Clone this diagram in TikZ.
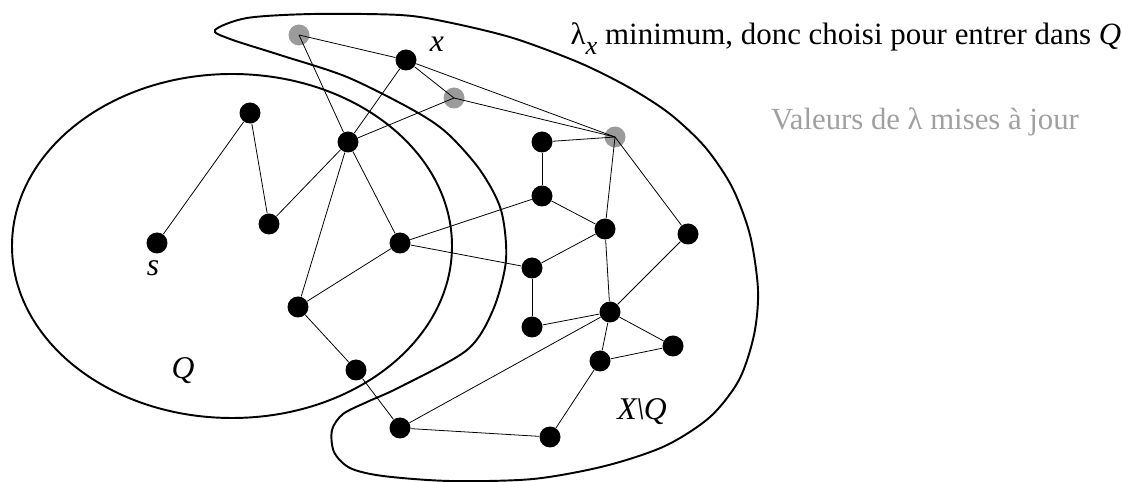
\documentclass[tikz,border=0pt]{standalone}
\usepackage{fontspec}
\setmainfont{Liberation Serif}
\usetikzlibrary{calc}
\definecolor{majgray}{RGB}{155,155,155}
\definecolor{txtgray}{RGB}{160,160,160}
\tikzset{
  sommet/.style={circle,fill=black,inner sep=0pt,minimum size=0.42cm},
  sommet maj/.style={circle,fill=majgray,inner sep=0pt,minimum size=0.42cm},
  arete/.style={line width=0.45pt},
  bord/.style={line width=1.1pt},
  etiq/.style={font=\fontsize{18}{21}\selectfont\itshape},
}

\begin{document}
\begin{tikzpicture}[x=0.02cm,y=-0.02cm]
  \useasboundingbox (0,0) rectangle (1123,482);
  % ensemble Q et son complementaire
  \draw[bord] (232,246) ellipse (220 and 172);
  \draw[bord] plot[smooth cycle,tension=0.5] coordinates {(215,30) (247,18) (313,14) (400,15)
    (447,22) (513,38) (580,63) (630,88) (670,114) (705,147) (732,187) (750,235) (758,290)
    (754,335) (739,380) (710,417) (665,446) (605,466) (533,479) (450,481) (383,476) (350,468)
    (334,452) (332,430) (343,414) (367,402) (400,387) (467,350) (493,310) (506,260) (501,210)
    (480,170) (447,133) (413,110) (347,77) (280,55) (230,39)};
  % sommets
  \node[sommet] (s) at (157,243) {};
  \node[sommet] (q1) at (250,113) {};
  \node[sommet] (q2) at (269,224) {};
  \node[sommet] (q3) at (348,142) {};
  \node[sommet] (q4) at (400,243) {};
  \node[sommet] (q5) at (298,307) {};
  \node[sommet] (q6) at (356,370) {};
  \node[sommet] (x) at (406,60) {};
  \node[sommet maj] (u1) at (299,35) {};
  \node[sommet maj] (u2) at (454,98) {};
  \node[sommet maj] (u3) at (615,137) {};
  \node[sommet] (a) at (542,142) {};
  \node[sommet] (b) at (542,196) {};
  \node[sommet] (c) at (605,229) {};
  \node[sommet] (d) at (688,234) {};
  \node[sommet] (e) at (532,268) {};
  \node[sommet] (f) at (532,327) {};
  \node[sommet] (g) at (610,312) {};
  \node[sommet] (h) at (673,346) {};
  \node[sommet] (i) at (600,361) {};
  \node[sommet] (j) at (550,437) {};
  \node[sommet] (k) at (400,428) {};
  % aretes
  \foreach \p/\q in {s/q1, q1/q2, q2/q3, q3/u1.center, q3/x, q3/u2.center, q3/q4, q3/q5,
      q5/q4, q5/q6, q6/k, k/j, k/g, u1.center/x, x/u2.center, x/u3.center, u2.center/u3.center,
      u3.center/a, u3.center/c, u3.center/d, a/b, b/q4, b/c, c/e, q4/e, e/f, f/g, c/g,
      g/d, g/h, g/i, i/h, i/j}
    \draw[arete] (\p) -- (\q);
  % textes
  \node[etiq] (lx) at (437,44) {x};
  \node[etiq] (ls) at (153,268) {s};
  \node[etiq] (lq) at (183,371) {Q};
  \node[etiq] (lxq) at (642,412) {X\kern-0.5pt\textbackslash\kern-0.5pt Q};
  \node[font=\fontsize{17.6}{21}\selectfont, anchor=base] (titre) at (846,45)
    {λ\raisebox{-0.3em}{\fontsize{15}{15}\selectfont\itshape x} minimum, donc choisi pour entrer dans \textit{Q}};
  \node[font=\fontsize{17.5}{21}\selectfont, text=txtgray, anchor=base] (maj) at (925,130)
    {Valeurs de λ mises à jour};
\end{tikzpicture}
\end{document}
